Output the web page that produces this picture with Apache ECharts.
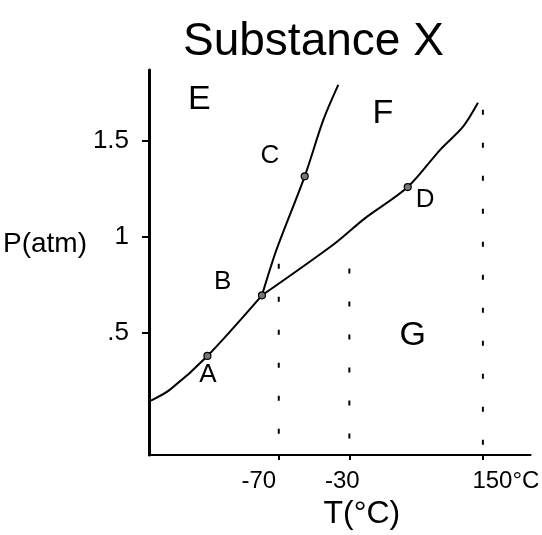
<!DOCTYPE html>
<html>
<head>
<meta charset="utf-8">
<script src="https://cdn.jsdelivr.net/npm/echarts@6/dist/echarts.min.js"></script>
<style>html,body{margin:0;padding:0;background:#fff;}#c{width:542px;height:535px;}</style>
</head>
<body>
<div id="c"></div>
<script>
// ---- data (x is the sketch's own, non-linear temperature axis) ----
const xTickPos = [34.0, 52.5, 87.5];
const xTickLabels = ['-70', '-30', '150°C'];
const yTickValues = [0.5, 1, 1.5];
const yTickLabels = ['.5', '1', '1.5'];

const sublimationCurve = [[0.5, 0.149], [5.5, 0.206], [15.3, 0.381], [29.6, 0.696]];
const vaporCurve = [[29.6, 0.696], [48.6, 0.964], [56.4, 1.093], [67.8, 1.258], [76.4, 1.454], [82.3, 1.572], [86.2, 1.696]];
const fusionCurve = [[29.6, 0.696], [33.5, 0.938], [40.8, 1.314], [45.7, 1.608], [49.6, 1.789]];

const pointNames = ['A', 'B', 'C', 'D'];
const pointValues = [[15.3, 0.381], [29.6, 0.696], [40.8, 1.314], [67.8, 1.258]];

const regionNames = ['E', 'F', 'G'];
const regionValues = [[13.2, 1.71], [61.3, 1.64], [69.1, 0.485]];

const dropTops = [0.86, 0.835, 1.66];
const dropBottom = -0.12;

// ---- chart ----
const font = "'Liberation Sans', 'DejaVu Sans', sans-serif";
const labelShift = {'-70': [0, 40, 0, 0], '-30': [0, 14, 0, 0], '150°C': [0, 0, 0, 46]};
const rich = {};
xTickLabels.forEach((t, i) => {
  rich['t' + i] = {fontSize: 24, fontFamily: font, color: '#000', padding: labelShift[t]};
});
const pointOffsets = {A: [-4, 10], B: [-44, -22], C: [-40, -29], D: [12, 4]};

const dropSeries = xTickPos.map((x, i) => ({
  type: 'line', data: [[x, dropTops[i]], [x, dropBottom]], symbol: 'none', silent: true,
  lineStyle: {color: '#000', width: 2, type: [5, 28]}
}));

const curveStyle = {color: '#000', width: 2};

const option = {
  animation: false,
  backgroundColor: '#fff',
  title: {
    text: 'Substance X', left: 178, top: 14,
    textStyle: {fontFamily: font, fontSize: 46, fontWeight: 'normal', color: '#000'}
  },
  grid: {left: 146, right: 11, top: 70, bottom: 77},
  xAxis: {
    type: 'value', min: 0, max: 100,
    name: 'T(°C)', nameLocation: 'middle', nameGap: 42,
    nameTextStyle: {fontFamily: font, fontSize: 32, color: '#000', padding: [0, 0, 0, 44]},
    axisLine: {onZero: false, lineStyle: {color: '#000', width: 2}},
    splitLine: {show: false},
    axisTick: {show: true, length: 5, lineStyle: {color: '#000', width: 2}, customValues: xTickPos},
    axisLabel: {
      customValues: xTickPos, margin: 14, rich: rich,
      formatter: v => { const i = xTickPos.indexOf(v); return i < 0 ? '' : '{t' + i + '|' + xTickLabels[i] + '}'; }
    }
  },
  yAxis: {
    type: 'value', min: -0.134, max: 1.866,
    name: 'P(atm)', nameLocation: 'middle', nameRotate: 0, nameGap: 56,
    nameTextStyle: {fontFamily: font, fontSize: 28, color: '#000', verticalAlign: 'bottom', padding: [0, 0, 4, 0]},
    axisLine: {show: true, onZero: false, lineStyle: {color: '#000', width: 3}},
    splitLine: {show: false},
    axisTick: {show: true, length: 7, lineStyle: {color: '#000', width: 2}, customValues: yTickValues},
    axisLabel: {
      customValues: yTickValues, margin: 20, fontFamily: font, fontSize: 26, color: '#000',
      formatter: v => { const i = yTickValues.indexOf(v); return i < 0 ? '' : yTickLabels[i]; }
    }
  },
  series: [
    {type: 'line', data: sublimationCurve, smooth: 0.3, symbol: 'none', lineStyle: curveStyle},
    {type: 'line', data: vaporCurve, smooth: 0.3, symbol: 'none', lineStyle: curveStyle},
    {type: 'line', data: fusionCurve, smooth: 0.3, symbol: 'none', lineStyle: curveStyle},
    ...dropSeries,
    {
      type: 'scatter', symbol: 'circle', symbolSize: 7, z: 5,
      itemStyle: {color: '#777', borderColor: '#000', borderWidth: 1.2, opacity: 1},
      data: pointNames.map((n, i) => ({
        name: n, value: pointValues[i],
        label: {
          show: true, formatter: n, fontFamily: font, fontSize: 26, color: '#000',
          position: pointOffsets[n]
        }
      }))
    },
    {
      type: 'scatter', symbolSize: 0, silent: true,
      itemStyle: {opacity: 1},
      data: regionNames.map((n, i) => ({name: n, value: regionValues[i]})),
      label: {show: true, position: 'inside', formatter: p => p.name, fontFamily: font, fontSize: 34, color: '#000'}
    }
  ]
};

echarts.init(document.getElementById('c')).setOption(option);
</script>
</body>
</html>
